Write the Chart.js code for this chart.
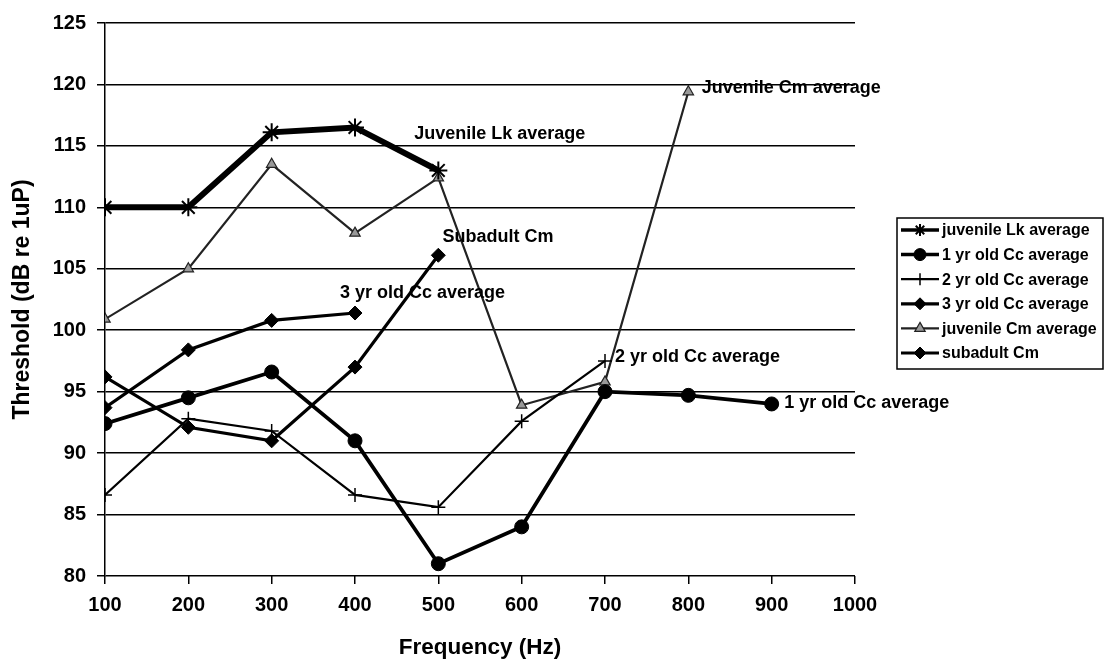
<!DOCTYPE html>
<html lang="en">
<head>
<meta charset="UTF-8">
<title>Threshold vs Frequency</title>
<script src="https://cdn.jsdelivr.net/npm/chart.js"></script>
<style>
  html, body { margin: 0; padding: 0; background: #fff; }
  #wrap { width: 1105px; height: 662px; }
</style>
</head>
<body>
<div id="wrap"><canvas id="thrChart" width="1105" height="662"></canvas></div>
<script>
// frequencies (Hz)
var freqs = [100, 200, 300, 400, 500, 600, 700, 800, 900];

// thresholds (dB re 1uP)
var lkJuvAvg   = [110, 110, 116.1, 116.5, 113];
var cc1yrAvg   = [92.4, 94.5, 96.6, 91, 81, 84, 95, 94.7, 94];
var cc2yrAvg   = [86.6, 92.8, 91.8, 86.6, 85.6, 92.6, 97.5];
var cc3yrAvg   = [93.7, 98.4, 100.8, 101.4];
var cmJuvAvg   = [100.9, 105, 113.5, 107.9, 112.4, 93.9, 95.8, 119.4];
var cmSubadult = [96.2, 92.1, 91, 97, 106.1];

var legendNames = ['juvenile Lk average', '1 yr old Cc average', '2 yr old Cc average',
                   '3 yr old Cc average', 'juvenile Cm average', 'subadult Cm'];

// in-plot labels: text, x (Hz) of left edge, y (dB) of middle
var noteText = ['Juvenile Lk average', 'Juvenile Cm average', 'Subadult Cm',
                '3 yr old Cc average', '2 yr old Cc average', '1 yr old Cc average'];
var noteX = [471, 816, 505, 382, 712, 915];
var noteY = [116.0, 119.7, 107.6, 103.0, 97.8, 94.1];

function pts(vals) {
  return vals.map(function (v, i) { return { x: freqs[i], y: v }; });
}

var FONT = '"Liberation Sans", Arial, sans-serif';

var notesPlugin = {
  id: 'notes',
  afterDatasetsDraw: function (chart) {
    var ctx = chart.ctx, xs = chart.scales.x, ys = chart.scales.y;
    ctx.save();
    ctx.fillStyle = '#000';
    ctx.font = 'bold 18px ' + FONT;
    ctx.textAlign = 'left';
    ctx.textBaseline = 'middle';
    for (var i = 0; i < noteText.length; i++) {
      ctx.fillText(noteText[i], xs.getPixelForValue(noteX[i]), ys.getPixelForValue(noteY[i]));
    }
    ctx.restore();
  }
};

// boxed legend on the right, with line + marker samples
var boxLegend = {
  id: 'boxLegend',
  afterDraw: function (chart) {
    var ctx = chart.ctx;
    var left = 897, top = 218, w = 206, h = 151, rowH = 24.6;
    ctx.save();
    ctx.strokeStyle = '#000';
    ctx.lineWidth = 1.5;
    ctx.strokeRect(left, top, w, h);
    ctx.font = 'bold 16px ' + FONT;
    ctx.textBaseline = 'middle';
    chart.data.datasets.forEach(function (ds, i) {
      var y = top + 12 + i * rowH;
      ctx.beginPath();
      ctx.strokeStyle = ds.borderColor;
      ctx.lineWidth = Math.min(ds.borderWidth, 3.5);
      ctx.moveTo(left + 4, y);
      ctx.lineTo(left + 42, y);
      ctx.stroke();
      ctx.fillStyle = ds.pointBackgroundColor;
      ctx.strokeStyle = ds.pointBorderColor;
      ctx.lineWidth = ds.pointBorderWidth;
      Chart.helpers.drawPoint(ctx, {
        pointStyle: ds.pointStyle,
        radius: Math.min(ds.pointRadius, 6),
        borderWidth: ds.pointBorderWidth,
        rotation: 0
      }, left + 23, y);
      ctx.fillStyle = '#000';
      ctx.fillText(ds.label, left + 45, y + 1);
    });
    ctx.restore();
  }
};

function series(i, vals, style) {
  var base = {
    label: legendNames[i],
    data: pts(vals),
    borderColor: '#000',
    backgroundColor: '#000',
    pointBorderColor: '#000',
    pointBackgroundColor: '#000',
    fill: false,
    tension: 0
  };
  for (var k in style) base[k] = style[k];
  return base;
}

var datasets = [
  series(0, lkJuvAvg,   { borderWidth: 6, pointStyle: 'star', pointRadius: 9, pointBorderWidth: 2 }),
  series(1, cc1yrAvg,   { borderWidth: 3.8, pointStyle: 'circle', pointRadius: 7, pointBorderWidth: 1 }),
  series(2, cc2yrAvg,   { borderWidth: 2.2, pointStyle: 'cross', pointRadius: 7, pointBorderWidth: 1.5 }),
  series(3, cc3yrAvg,   { borderWidth: 3.2, pointStyle: 'rectRot', pointRadius: 7, pointBorderWidth: 1 }),
  series(4, cmJuvAvg,   { borderWidth: 2.2, borderColor: '#222', pointStyle: 'triangle', pointRadius: 6,
                          pointBorderWidth: 1.2, pointBackgroundColor: '#999', pointBorderColor: '#222' }),
  series(5, cmSubadult, { borderWidth: 3.2, pointStyle: 'rectRot', pointRadius: 7, pointBorderWidth: 1 })
];

var ctx = document.getElementById('thrChart').getContext('2d');
var chart = new Chart(ctx, {
  type: 'line',
  data: { datasets: datasets },
  options: {
    responsive: false,
    animation: false,
    layout: { padding: { top: 21, right: 250, left: 0, bottom: 0 } },
    plugins: {
      legend: { display: false },
      tooltip: { enabled: false }
    },
    scales: {
      x: {
        type: 'linear',
        min: 100,
        max: 1000,
        afterFit: function (s) { s.height = 86; },
        ticks: {
          stepSize: 100,
          color: '#000',
          padding: 9,
          font: { family: FONT, size: 20, weight: 'bold' },
          callback: function (v) { return String(v); }
        },
        grid: { drawOnChartArea: false, drawTicks: true, tickLength: 8, color: '#000', lineWidth: 1.5 },
        border: { display: false },
        title: {
          display: true,
          text: 'Frequency (Hz)',
          color: '#000',
          padding: { top: 0, bottom: 1 },
          font: { family: FONT, size: 22.5, weight: 'bold' }
        }
      },
      y: {
        min: 80,
        max: 125,
        afterFit: function (s) { s.width = 105; },
        ticks: {
          stepSize: 5,
          color: '#000',
          padding: 11,
          font: { family: FONT, size: 20, weight: 'bold' }
        },
        grid: { color: '#000', lineWidth: 1.5, drawTicks: true, tickLength: 8 },
        border: { display: true, color: '#000', width: 1.5 },
        title: {
          display: true,
          text: 'Threshold (dB re 1uP)',
          color: '#000',
          padding: { top: 9, bottom: 0 },
          font: { family: FONT, size: 23, weight: 'bold' }
        }
      }
    }
  },
  plugins: [notesPlugin, boxLegend]
});
</script>
</body>
</html>
